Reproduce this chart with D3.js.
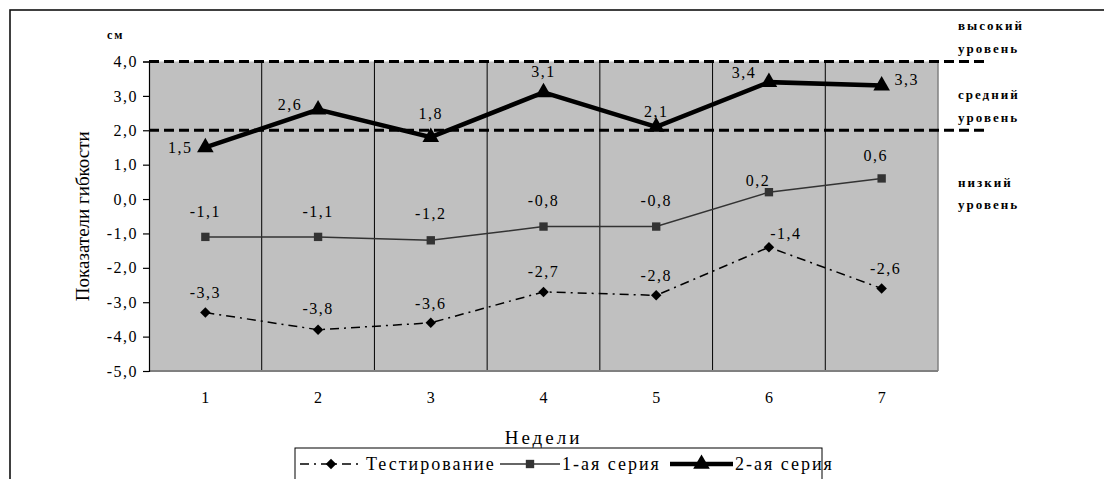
<!DOCTYPE html>
<html>
<head>
<meta charset="utf-8">
<script src="https://cdn.jsdelivr.net/npm/d3@7"></script>
<style>
  html, body { margin: 0; padding: 0; background: #fff; }
  svg { display: block; }
  svg text { font-family: "Liberation Serif", Tinos, "Times New Roman", "DejaVu Serif", "Noto Serif", serif; fill: #000; }
</style>
</head>
<body>
<svg id="chart" width="1104" height="479"></svg>
<script>
// Weeks on the x axis
const weeks = ["1", "2", "3", "4", "5", "6", "7"];
// Flexibility scores, cm
const testing = [-3.3, -3.8, -3.6, -2.7, -2.8, -1.4, -2.6];
const series1 = [-1.1, -1.1, -1.2, -0.8, -0.8, 0.2, 0.6];
const series2 = [1.5, 2.6, 1.8, 3.1, 2.1, 3.4, 3.3];
// Level boundaries (cm)
const levelBounds = [4.0, 2.0];
const levelNames = [["высокий", "уровень"], ["средний", "уровень"], ["низкий", "уровень"]];
// Y axis ticks
const yTicks = [4, 3, 2, 1, 0, -1, -2, -3, -4, -5];
const seriesNames = ["Тестирование", "1-ая серия", "2-ая серия"];

// Label nudges for each value label [dx, dy] relative to its point
const testingLabelShift = [[0,-20],[0,-21],[0,-19],[0,-20],[0,-20],[17,-14],[4,-20]];
const series1LabelShift = [[0,-25],[0,-25],[0,-27],[0,-26],[0,-26],[-11,-12],[-6,-23]];
const series2LabelShift = [[-25,0],[-28,-5],[0,-24],[0,-21],[0,-15],[-25,-10],[25,-6]];

const SERIF = "'Liberation Serif', Tinos, 'Times New Roman', 'DejaVu Serif', serif";
const fmt = v => d3.format(".1f")(v).replace(".", ",").replace("−", "-");

const svg = d3.select("#chart");

// outer frame
svg.append("rect")
  .attr("x", 10).attr("y", 10).attr("width", 1110).attr("height", 490)
  .attr("fill", "none").attr("stroke", "#111").attr("stroke-width", 1.6);

const plot = { left: 149, right: 938, top: 61.5, bottom: 371 };

const x = d3.scaleBand().domain(weeks).range([plot.left, plot.right]);
const y = d3.scaleLinear().domain([-5, 4]).range([plot.bottom, plot.top]);
const cx = w => x(w) + x.bandwidth() / 2;

// plot background
svg.append("rect")
  .attr("x", plot.left).attr("y", plot.top)
  .attr("width", plot.right - plot.left).attr("height", plot.bottom - plot.top)
  .attr("fill", "#c0c0c0");

// vertical separators between weeks
svg.append("g").selectAll("line")
  .data(weeks.slice(1))
  .join("line")
  .attr("x1", d => x(d)).attr("x2", d => x(d))
  .attr("y1", plot.top).attr("y2", plot.bottom)
  .attr("stroke", "#000").attr("stroke-width", 1);

// right border
svg.append("line")
  .attr("x1", plot.right).attr("x2", plot.right)
  .attr("y1", plot.top).attr("y2", plot.bottom)
  .attr("stroke", "#808080").attr("stroke-width", 1.5);

// bottom axis line
svg.append("line")
  .attr("x1", plot.left).attr("x2", plot.right)
  .attr("y1", plot.bottom).attr("y2", plot.bottom)
  .attr("stroke", "#808080").attr("stroke-width", 2);

// y axis
const yAxis = svg.append("g")
  .attr("transform", `translate(${plot.left},0)`)
  .call(d3.axisLeft(y).tickValues(yTicks).tickSize(6).tickPadding(5).tickFormat(fmt));
yAxis.attr("font-family", SERIF).attr("font-size", 16);
yAxis.select(".domain").attr("stroke", "#000").attr("stroke-width", 1.2);
yAxis.selectAll(".tick line").attr("stroke", "#000").attr("stroke-width", 1.2);
yAxis.selectAll(".tick text")
  .attr("font-size", 16).attr("letter-spacing", 1.5).attr("fill", "#000");

// x axis labels
const xAxis = svg.append("g")
  .attr("transform", `translate(0,${plot.bottom})`)
  .call(d3.axisBottom(x).tickSize(0).tickPadding(21));
xAxis.attr("font-family", SERIF).attr("font-size", 16);
xAxis.select(".domain").remove();
xAxis.selectAll(".tick text").attr("font-size", 16).attr("fill", "#000");

// level boundary lines
svg.append("g").selectAll("line")
  .data(levelBounds)
  .join("line")
  .attr("x1", plot.left).attr("x2", 985)
  .attr("y1", d => y(d)).attr("y2", d => y(d))
  .attr("stroke", "#000").attr("stroke-width", 3)
  .attr("stroke-dasharray", "10,5");

// level names on the right
const levelY = [[25, 48], [94, 117], [182, 204]];
levelNames.forEach((pair, i) => {
  pair.forEach((t, j) => {
    svg.append("text")
      .attr("x", 958).attr("y", levelY[i][j])
      .attr("dominant-baseline", "central")
      .attr("font-family", SERIF)
      .attr("font-size", 13).attr("font-weight", "bold")
      .attr("letter-spacing", 2).attr("fill", "#222")
      .text(t);
  });
});

// unit label
svg.append("text")
  .attr("x", 107).attr("y", 35)
  .attr("dominant-baseline", "central")
  .attr("font-family", SERIF)
  .attr("font-size", 12).attr("font-weight", "bold").attr("letter-spacing", 2)
  .text("см");

// axis titles
svg.append("text")
  .attr("transform", `translate(82,${(plot.top + plot.bottom) / 2}) rotate(-90)`)
  .attr("text-anchor", "middle").attr("dominant-baseline", "central")
  .attr("font-family", SERIF)
  .attr("font-size", 19)
  .text("Показатели гибкости");

svg.append("text")
  .attr("x", (plot.left + plot.right) / 2).attr("y", 437)
  .attr("text-anchor", "middle").attr("dominant-baseline", "central")
  .attr("font-family", SERIF)
  .attr("font-size", 19).attr("letter-spacing", 3)
  .text("Недели");

// series
const line = d3.line().x((d, i) => cx(weeks[i])).y(d => y(d));

const diamond = d3.symbol().type(d3.symbolSquare).size(55);
const square = d3.symbol().type(d3.symbolSquare).size(70);
const triangle = d3.symbol().type(d3.symbolTriangle).size(120);

const seriesDefs = [
  { values: testing, stroke: "#000", width: 1.5, dash: "9,5,2,5", sym: diamond, rot: 45, fill: "#000", shift: testingLabelShift },
  { values: series1, stroke: "#333", width: 1.5, dash: null, sym: square, rot: 0, fill: "#333", shift: series1LabelShift },
  { values: series2, stroke: "#000", width: 4.5, dash: null, sym: triangle, rot: 0, fill: "#000", shift: series2LabelShift }
];

seriesDefs.forEach(s => {
  svg.append("path")
    .datum(s.values)
    .attr("d", line)
    .attr("fill", "none")
    .attr("stroke", s.stroke)
    .attr("stroke-width", s.width)
    .attr("stroke-dasharray", s.dash);

  svg.append("g").selectAll("path")
    .data(s.values)
    .join("path")
    .attr("d", s.sym)
    .attr("transform", (d, i) => `translate(${cx(weeks[i])},${y(d)}) rotate(${s.rot})`)
    .attr("fill", s.fill);

  svg.append("g").selectAll("text")
    .data(s.values)
    .join("text")
    .attr("x", (d, i) => cx(weeks[i]) + s.shift[i][0])
    .attr("y", (d, i) => y(d) + s.shift[i][1])
    .attr("text-anchor", "middle").attr("dominant-baseline", "central")
    .attr("font-family", SERIF)
    .attr("font-size", 16).attr("letter-spacing", 1.5)
    .text(d => fmt(d));
});

// legend
const lg = svg.append("g");
lg.append("rect")
  .attr("x", 295).attr("y", 448).attr("width", 527).attr("height", 50)
  .attr("fill", "#fff").attr("stroke", "#000").attr("stroke-width", 1);

const legendItems = [
  { x0: 300, x1: 362, tx: 366, def: seriesDefs[0] },
  { x0: 500, x1: 560, tx: 562, def: seriesDefs[1] },
  { x0: 670, x1: 733, tx: 735, def: seriesDefs[2] }
];
const ly = 464;
legendItems.forEach((it, i) => {
  lg.append("line")
    .attr("x1", it.x0).attr("x2", it.x1).attr("y1", ly).attr("y2", ly)
    .attr("stroke", it.def.stroke).attr("stroke-width", it.def.width)
    .attr("stroke-dasharray", it.def.dash);
  lg.append("path")
    .attr("d", it.def.sym)
    .attr("transform", `translate(${(it.x0 + it.x1) / 2},${ly}) rotate(${it.def.rot})`)
    .attr("fill", it.def.fill);
  lg.append("text")
    .attr("x", it.tx).attr("y", ly)
    .attr("dominant-baseline", "central")
    .attr("font-family", SERIF)
    .attr("font-size", 18).attr("letter-spacing", 2)
    .text(seriesNames[i]);
});
</script>
</body>
</html>
